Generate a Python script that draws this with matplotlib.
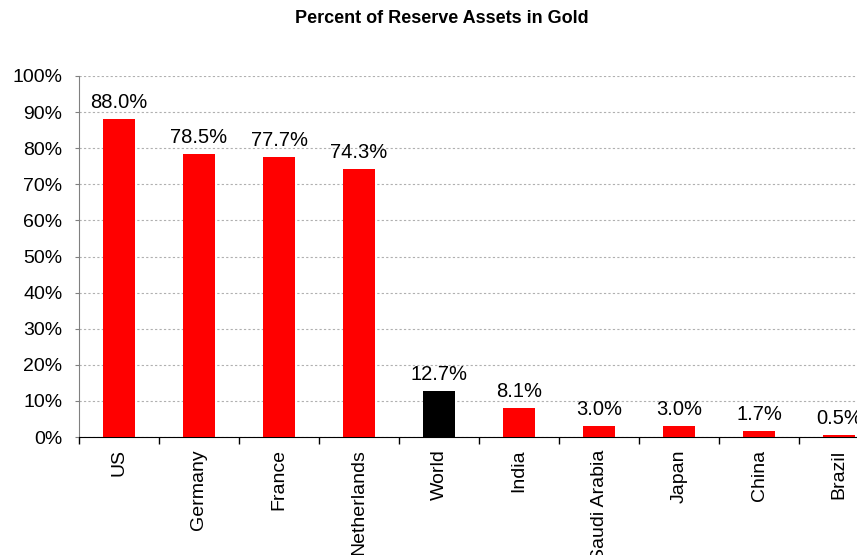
import numpy as np
import matplotlib
matplotlib.use('Agg')
import matplotlib.pyplot as plt
from matplotlib.ticker import FixedLocator, PercentFormatter

plt.rcParams['font.family'] = ['Liberation Sans', 'DejaVu Sans']

countries = ['US', 'Germany', 'France', 'Netherlands', 'World', 'India',
             'Saudi Arabia', 'Japan', 'China', 'Brazil']
gold_share = [88.0, 78.5, 77.7, 74.3, 12.7, 8.1, 3.0, 3.0, 1.7, 0.5]
colors = ['red' if c != 'World' else 'black' for c in countries]

fig = plt.figure(figsize=(8.57, 5.55), dpi=100)
# axes run a little past the right edge, like the original export
ax = fig.add_axes([79 / 857, 1 - 437 / 555, 800 / 857, 361 / 555])

x = np.arange(len(countries))
ax.bar(x, gold_share, width=0.4, color=colors, zorder=3)

for xi, v in zip(x, gold_share):
    ax.annotate(f'{v:.1f}%', (xi, v), xytext=(0, 5), textcoords='offset points',
                ha='center', va='bottom', fontsize=14.5)

ax.set_xlim(-0.5, len(countries) - 0.5)
ax.set_ylim(0, 100)
ax.set_yticks(np.arange(0, 101, 10))
ax.yaxis.set_major_formatter(PercentFormatter(decimals=0))
ax.yaxis.grid(True, color='#b0b0b0', linestyle=(0, (2, 2)), linewidth=0.8, zorder=0)

ax.set_xticks(x)
ax.set_xticklabels(countries, rotation=90, ha='center', va='top')
ax.tick_params(axis='x', which='major', length=0, pad=9, labelsize=14)
ax.xaxis.set_minor_locator(FixedLocator(np.arange(-0.5, len(countries), 1)))
ax.tick_params(axis='x', which='minor', length=5, width=1, color='black')
ax.tick_params(axis='y', length=3, color='#808080', labelsize=14, pad=9)

for side in ['top', 'right']:
    ax.spines[side].set_visible(False)
ax.spines['left'].set_color('#808080')
ax.spines['bottom'].set_color('black')

fig.text(0.516, 0.967, 'Percent of Reserve Assets in Gold', ha='center', va='center',
         fontsize=13, fontweight='bold')

fig.savefig('out.png', dpi=100)
